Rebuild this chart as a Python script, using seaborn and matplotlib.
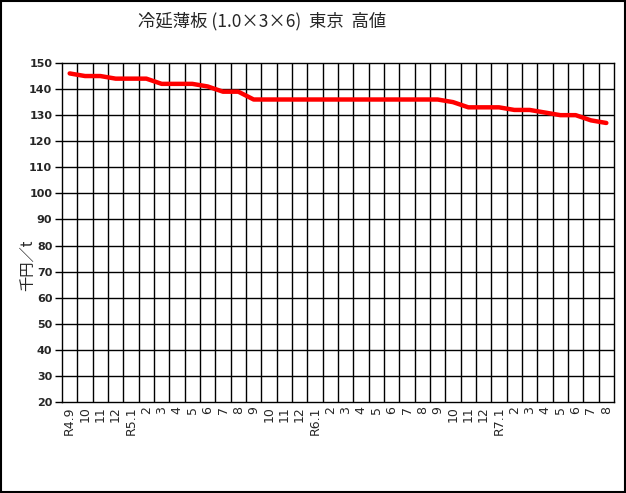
import matplotlib
matplotlib.use("Agg")
import matplotlib.pyplot as plt
import seaborn as sns
import pandas as pd
from matplotlib.patches import Rectangle

months = ["R4.9", "10", "11", "12",
          "R5.1", "2", "3", "4", "5", "6", "7", "8", "9", "10", "11", "12",
          "R6.1", "2", "3", "4", "5", "6", "7", "8", "9", "10", "11", "12",
          "R7.1", "2", "3", "4", "5", "6", "7", "8"]
price = [146, 145, 145, 144,
         144, 144, 142, 142, 142, 141, 139, 139, 136, 136, 136, 136,
         136, 136, 136, 136, 136, 136, 136, 136, 136, 135, 133, 133,
         133, 132, 132, 131, 130, 130, 128, 127]

sns.set_style("white")
plt.rcParams['font.family'] = ['Noto Sans CJK JP', 'DejaVu Sans']

df = pd.DataFrame({"pos": range(len(months)), "price": price})

fig = plt.figure(figsize=(6.26, 4.93), dpi=100)
ax = fig.add_axes([62 / 626, 1 - 402 / 493, 552 / 626, 339 / 493])

sns.lineplot(data=df, x="pos", y="price", color="#ff0000", linewidth=3.2, ax=ax)

ax.set_xlim(-0.5, len(months) - 0.5)
ax.set_ylim(20, 150)
ax.set_yticks(range(20, 151, 10))
ax.set_yticklabels([str(v) for v in range(20, 151, 10)],
                   fontsize=8, fontweight="bold", family="DejaVu Sans")
ax.set_xticks(range(len(months)))
ax.set_xticklabels(months, rotation=90, fontsize=9, family="DejaVu Sans")
ax.tick_params(axis="x", length=0, pad=3)
ax.tick_params(axis="y", length=5, width=1, color="black", pad=2, left=True)

for b in [i - 0.5 for i in range(1, len(months))]:
    ax.axvline(b, color="black", linewidth=1, zorder=0)
for v in range(30, 150, 10):
    ax.axhline(v, color="black", linewidth=1, zorder=0)
for s in ax.spines.values():
    s.set_color("black")
    s.set_linewidth(1)

ax.set_xlabel("")
ax.set_ylabel("")
fig.text(28 / 626, 1 - 265 / 493, "千円／t", rotation=90,
         ha="center", va="center", fontsize=11)

fig.text(262 / 626, 1 - 21 / 493, "冷延薄板 (1.0×3×6)  東京  高値",
         ha="center", va="center", fontsize=12.5)
fig.patches.append(Rectangle((0.002, 0.002), 0.996, 0.996, transform=fig.transFigure,
                             fill=False, edgecolor="black", linewidth=1.5))

plt.savefig("out.png", dpi=100)
